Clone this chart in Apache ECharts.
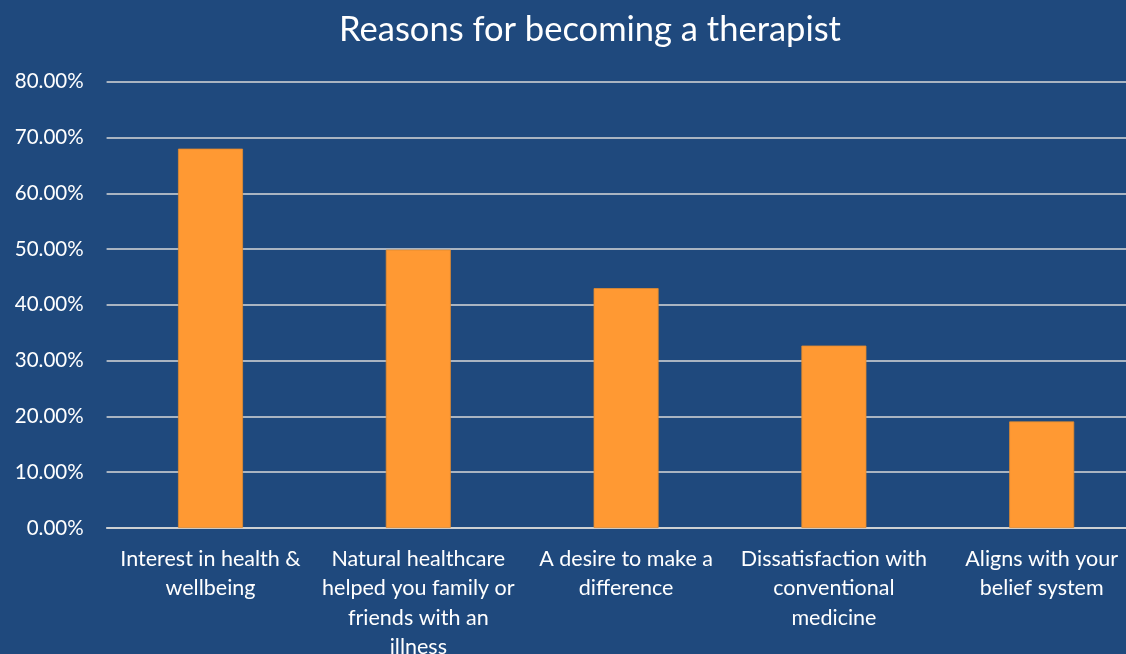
<!DOCTYPE html>
<html><head><meta charset="utf-8">
<script src="https://cdn.jsdelivr.net/npm/echarts@6/dist/echarts.min.js"></script>
<style>html,body{margin:0;padding:0;background:#1F497D;}#c{width:1126px;height:654px;}</style>
</head><body><div id="c"></div>
<script>
const categories = [
  "Interest in health &\nwellbeing",
  "Natural healthcare\nhelped you family or\nfriends with an\nillness",
  "A desire to make a\ndifference",
  "Dissatisfaction with\nconventional\nmedicine",
  "Aligns with your\nbelief system"
];
const values = [0.680, 0.499, 0.430, 0.327, 0.191];
const yTicks = { min: 0, max: 0.8, interval: 0.1 };
const title = "Reasons for becoming a therapist";

const chart = echarts.init(document.getElementById('c'));
chart.setOption({
  backgroundColor: '#1F497D',
  animation: false,
  title: {
    text: title, left: 585, top: 7, textAlign: 'center',
    textStyle: { color: '#FFFFFF', fontSize: 34.5, fontWeight: 'normal', fontFamily: 'Lato' }
  },
  grid: { left: 106.6, top: 81.7, width: 1039, height: 446.3, containLabel: false, outerBoundsMode: 'none' },
  xAxis: {
    type: 'category', data: categories,
    axisLine: { show: true, lineStyle: { color: '#D9D9D9', width: 1.5 } },
    axisTick: { show: false },
    axisLabel: { color: '#FFFFFF', fontSize: 21.5, fontFamily: 'Lato', lineHeight: 29.5, margin: 16, interval: 0 }
  },
  yAxis: {
    type: 'value', min: yTicks.min, max: yTicks.max, interval: yTicks.interval,
    axisLine: { show: false }, axisTick: { show: false },
    splitLine: { lineStyle: { color: '#D9D9D9', width: 1.5 } },
    axisLabel: { color: '#FFFFFF', fontSize: 20.5, fontFamily: 'Lato', margin: 23,
      formatter: v => (v * 100).toFixed(2) + '%' }
  },
  series: [{
    type: 'bar', data: values, barWidth: 65,
    itemStyle: { color: '#FF9933', borderColor: '#E08A30', borderWidth: 0.8 }
  }]
});
</script></body></html>
